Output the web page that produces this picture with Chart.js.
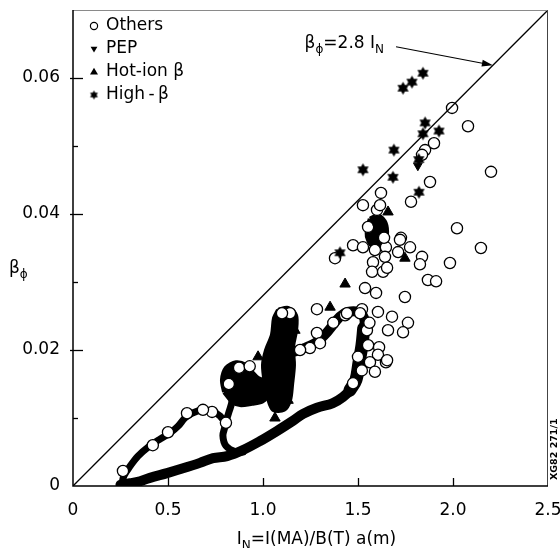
<!DOCTYPE html>
<html>
<head>
<meta charset="utf-8">
<script src="https://cdn.jsdelivr.net/npm/chart.js@4.4.1/dist/chart.umd.min.js"></script>
<style>
  html, body { margin: 0; padding: 0; background: #fff; }
</style>
</head>
<body>
<canvas id="chart" width="560" height="548"></canvas>
<script>
const FONT = '"DejaVu Sans", "Liberation Sans", Arial, sans-serif';

// axis ticks: I_N along x, beta_phi along y
const xTickValues = [0, 0.5, 1.0, 1.5, 2.0, 2.5];
const xTickLabels = ['0', '0.5', '1.0', '1.5', '2.0', '2.5'];
const yTickValues = [0, 0.02, 0.04, 0.06];
const yTickLabels = ['0', '0.02', '0.04', '0.06'];

// beta_phi (%) = 2.8 I_N limit and the arrow pointing at it
const limitSlope = 2.8;
const arrowTail = [1.70, 0.0646];
const arrowHeadX = 2.21;

const others = [
  [1.995, 0.0556], [2.079, 0.0529], [2.200, 0.0462], [1.900, 0.0504], [1.853, 0.0494],
  [1.837, 0.0487], [1.879, 0.0447], [1.779, 0.0418], [1.621, 0.0431], [1.526, 0.0413],
  [1.600, 0.0406], [1.616, 0.0413], [2.021, 0.0379], [1.726, 0.0365], [1.474, 0.0354],
  [1.526, 0.0351], [1.589, 0.0347], [1.647, 0.0351], [1.721, 0.0362], [1.774, 0.0351],
  [1.711, 0.0344], [1.642, 0.0337], [1.579, 0.0329], [1.574, 0.0315], [1.632, 0.0315],
  [1.653, 0.0321], [1.837, 0.0337], [1.826, 0.0326], [1.984, 0.0328], [2.147, 0.0350],
  [1.868, 0.0303], [1.911, 0.0301], [1.379, 0.0335], [1.537, 0.0291], [1.595, 0.0284],
  [1.747, 0.0278], [1.284, 0.0260], [1.521, 0.0260], [1.605, 0.0256], [1.432, 0.0251],
  [1.679, 0.0249], [1.763, 0.0240], [1.658, 0.0229], [1.737, 0.0226], [1.553, 0.0207],
  [1.611, 0.0204], [1.605, 0.0193], [1.563, 0.0182], [1.647, 0.0182], [1.589, 0.0168],
  [1.474, 0.0151], [1.511, 0.0254], [1.442, 0.0254], [0.600, 0.0107], [0.732, 0.0109],
  [0.805, 0.0093], [0.263, 0.0022], [0.684, 0.0112], [0.874, 0.0174], [1.142, 0.0254],
  [1.100, 0.0254], [1.284, 0.0225], [1.300, 0.0210], [1.247, 0.0203], [1.195, 0.0200],
  [1.547, 0.0229], [1.653, 0.0185], [1.553, 0.0381], [1.637, 0.0365],
  [1.500, 0.0190], [1.520, 0.0170], [1.560, 0.0240], [1.370, 0.0240], [0.930, 0.0176],
  [0.820, 0.0150], [0.420, 0.0060], [0.500, 0.0079]
];
const pep = [[1.815, 0.0471], [1.100, 0.0205], [1.120, 0.0175], [1.060, 0.0150]];
const hotIon = [
  [1.658, 0.0403], [1.605, 0.0388], [1.747, 0.0335], [1.432, 0.0297], [1.353, 0.0263],
  [0.974, 0.0190], [1.168, 0.0229], [1.074, 0.0122], [1.132, 0.0126], [1.063, 0.0100]
];
const highBeta = [
  [1.842, 0.0607], [1.784, 0.0594], [1.737, 0.0585], [1.853, 0.0534], [1.926, 0.0522],
  [1.842, 0.0518], [1.689, 0.0494], [1.526, 0.0465], [1.684, 0.0454], [1.821, 0.0432],
  [1.405, 0.0343], [1.820, 0.0480]
];

// where the "Others" shots pile up too thickly to separate
const bandLower = [
  [0.250, 0.0002], [0.300, 0.0004], [0.353, 0.0007], [0.405, 0.0012], [0.495, 0.0019],
  [0.579, 0.0026], [0.668, 0.0034], [0.737, 0.0041], [0.811, 0.0044], [0.895, 0.0053],
  [0.984, 0.0066], [1.074, 0.0081], [1.158, 0.0096], [1.211, 0.0106], [1.284, 0.0115],
  [1.368, 0.0122], [1.421, 0.0131], [1.458, 0.0141], [1.489, 0.0156], [1.505, 0.0181],
  [1.521, 0.0207], [1.532, 0.0229], [1.532, 0.0247], [1.500, 0.0256], [1.447, 0.0256],
  [1.405, 0.0249], [1.337, 0.0226], [1.284, 0.0212], [1.221, 0.0203], [1.158, 0.0197]
];
const bandRightSide = [
  [1.458, 0.0141], [1.489, 0.0156], [1.505, 0.0181], [1.521, 0.0207], [1.530, 0.0232]
];
const bandUpper = [
  [0.258, 0.0003], [0.268, 0.0015], [0.300, 0.0029], [0.342, 0.0044], [0.395, 0.0057],
  [0.458, 0.0069], [0.511, 0.0078], [0.553, 0.0088], [0.589, 0.0100], [0.626, 0.0107],
  [0.684, 0.0112], [0.732, 0.0110], [0.774, 0.0103], [0.800, 0.0091], [0.789, 0.0074],
  [0.805, 0.0059], [0.858, 0.0050], [0.895, 0.0050]
];
const bandLink = [[0.800, 0.0091], [0.821, 0.0109], [0.837, 0.0126], [0.826, 0.0141]];
const blobLeft = [
  [0.795, 0.0138], [0.784, 0.0156], [0.805, 0.0174], [0.858, 0.0182], [0.911, 0.0178],
  [0.942, 0.0168], [0.974, 0.0159], [1.016, 0.0153], [1.026, 0.0134], [0.995, 0.0124],
  [0.942, 0.0121], [0.879, 0.0119], [0.837, 0.0124]
];
const blobColumn = [
  [1.079, 0.0259], [1.132, 0.0262], [1.174, 0.0251], [1.174, 0.0229], [1.158, 0.0204],
  [1.163, 0.0178], [1.153, 0.0149], [1.142, 0.0126], [1.111, 0.0112], [1.053, 0.0112],
  [1.026, 0.0129], [1.011, 0.0149], [1.000, 0.0178], [1.016, 0.0200], [1.047, 0.0222],
  [1.058, 0.0247]
];
const blobTop = [
  [1.562, 0.0393], [1.608, 0.0398], [1.645, 0.0387], [1.652, 0.0368], [1.632, 0.0352],
  [1.590, 0.0350], [1.555, 0.0360], [1.545, 0.0376]
];

const pts = arr => arr.map(([x, y]) => ({ x, y }));

function hexStar(r) {
  const c = document.createElement('canvas');
  const s = Math.ceil(r * 2 + 2);
  c.width = c.height = s;
  const g = c.getContext('2d');
  g.translate(s / 2, s / 2);
  g.beginPath();
  for (let i = 0; i < 12; i++) {
    const a = -Math.PI / 2 + i * Math.PI / 6;
    const rr = i % 2 ? r * 0.58 : r;
    g.lineTo(Math.cos(a) * rr, Math.sin(a) * rr);
  }
  g.closePath();
  g.fillStyle = '#000';
  g.fill();
  return c;
}
const bigStar = hexStar(6.5);
const smallStar = hexStar(4.5);

const band = (data, width) => ({
  type: 'line', data: pts(data), borderColor: '#000', borderWidth: width,
  pointRadius: 0, tension: 0.35, fill: false,
  borderCapStyle: 'round', borderJoinStyle: 'round', order: 10
});
const blob = data => ({
  type: 'line', data: pts([...data, data[0]]), borderColor: '#000', backgroundColor: '#000',
  borderWidth: 4, pointRadius: 0, tension: 0.3, fill: 'shape', borderJoinStyle: 'round', order: 10
});

const pick = (values, labels) => v => {
  const i = values.findIndex(t => Math.abs(t - v) < 1e-6);
  return i < 0 ? '' : labels[i];
};

function drawRuns(ctx, runs, x, y) {
  for (const [t, sub] of runs) {
    ctx.font = sub ? `12px ${FONT}` : `17px ${FONT}`;
    ctx.fillText(t, x, y + (sub ? 5 : 0));
    x += ctx.measureText(t).width;
  }
  return x;
}
function runsWidth(ctx, runs) {
  let w = 0;
  for (const [t, sub] of runs) {
    ctx.font = sub ? `12px ${FONT}` : `17px ${FONT}`;
    w += ctx.measureText(t).width;
  }
  return w;
}

function legendMarker(ctx, ds, x, y) {
  ctx.save();
  ctx.translate(x, y);
  ctx.lineWidth = 1.2;
  ctx.strokeStyle = '#000';
  ctx.fillStyle = '#000';
  if (ds.pointStyle === 'circle') {
    ctx.beginPath();
    ctx.arc(0, 0, 3.6, 0, Math.PI * 2);
    ctx.stroke();
  } else if (ds.pointStyle === 'triangle') {
    ctx.rotate((ds.rotation || 0) * Math.PI / 180);
    const r = ds.rotation ? 3.6 : 4.2;
    ctx.beginPath();
    ctx.moveTo(0, -r);
    ctx.lineTo(r * 0.95, r * 0.6);
    ctx.lineTo(-r * 0.95, r * 0.6);
    ctx.closePath();
    ctx.fill();
  } else {
    ctx.drawImage(smallStar, -smallStar.width / 2, -smallStar.height / 2);
  }
  ctx.restore();
}

const decorations = {
  id: 'decorations',
  afterDatasetsDraw(chart) {
    const { ctx, chartArea: a, scales: { x, y } } = chart;
    ctx.save();
    // frame
    ctx.lineWidth = 1;
    ctx.strokeStyle = '#8a8a8a';
    ctx.beginPath();
    ctx.moveTo(a.left, a.top + 0.5); ctx.lineTo(a.right, a.top + 0.5);
    ctx.stroke();
    ctx.strokeStyle = '#444';
    ctx.beginPath();
    ctx.moveTo(a.right - 0.5, a.top); ctx.lineTo(a.right - 0.5, a.bottom);
    ctx.stroke();
    ctx.strokeStyle = '#000';
    ctx.lineWidth = 1.5;
    ctx.beginPath();
    ctx.moveTo(a.left, a.top); ctx.lineTo(a.left, a.bottom); ctx.lineTo(a.right, a.bottom);
    ctx.stroke();
    // inward tick marks
    ctx.lineWidth = 1.3;
    y.ticks.forEach(t => {
      if (t.value <= 0 || t.value >= y.max - 1e-9) return;
      const py = Math.round(y.getPixelForValue(t.value)) + 0.5;
      const major = t.label !== '';
      ctx.beginPath();
      ctx.moveTo(a.left - (major ? 3 : 0), py);
      ctx.lineTo(a.left + (major ? 10 : 5), py);
      ctx.stroke();
    });
    x.ticks.forEach(t => {
      if (t.value <= 0 || t.value >= x.max - 1e-9) return;
      const px = Math.round(x.getPixelForValue(t.value)) + 0.5;
      ctx.beginPath();
      ctx.moveTo(px, a.bottom);
      ctx.lineTo(px, a.bottom - 8);
      ctx.stroke();
    });
    ctx.restore();
  },
  afterDraw(chart) {
    const { ctx, chartArea: a, scales: { x, y } } = chart;
    ctx.save();
    ctx.fillStyle = '#000';
    ctx.textBaseline = 'alphabetic';

    // legend, top-left inside the frame
    const named = chart.data.datasets.filter(d => d.label);
    named.forEach((ds, i) => {
      const cy = a.top + 16 + i * 23;
      legendMarker(ctx, ds, a.left + 21, cy);
      ctx.font = `17px ${FONT}`;
      ctx.textBaseline = 'middle';
      ctx.fillText(ds.label, a.left + 33, cy);
    });
    ctx.textBaseline = 'alphabetic';

    // limit label and arrow
    const tx = x.getPixelForValue(arrowTail[0]);
    const ty = y.getPixelForValue(arrowTail[1]);
    const hx = x.getPixelForValue(arrowHeadX);
    const hy = y.getPixelForValue(limitSlope * arrowHeadX / 100);
    const label = [['β'], ['ϕ', 1], ['=2.8 I'], ['N', 1]];
    drawRuns(ctx, label, tx - 12 - runsWidth(ctx, label), ty + 1);
    ctx.strokeStyle = '#000';
    ctx.lineWidth = 1.2;
    const ang = Math.atan2(hy - ty, hx - tx);
    ctx.beginPath();
    ctx.moveTo(tx, ty);
    ctx.lineTo(hx - 8 * Math.cos(ang), hy - 8 * Math.sin(ang));
    ctx.stroke();
    ctx.save();
    ctx.translate(hx, hy);
    ctx.rotate(ang);
    ctx.beginPath();
    ctx.moveTo(0, 0); ctx.lineTo(-11, -3.5); ctx.lineTo(-11, 3.5);
    ctx.closePath();
    ctx.fill();
    ctx.restore();

    // axis titles
    drawRuns(ctx, [['β'], ['ϕ', 1]], 9, y.getPixelForValue(0.0322) + 6);
    const xt = [['I'], ['N', 1], ['=I(MA)/B(T) a(m)']];
    drawRuns(ctx, xt, (a.left + a.right) / 2 + 6 - runsWidth(ctx, xt) / 2, a.bottom + 58);

    // figure number along the right edge
    ctx.save();
    ctx.translate(a.right + 7, a.bottom - 6);
    ctx.rotate(-Math.PI / 2);
    ctx.font = `bold 9.5px ${FONT}`;
    ctx.textBaseline = 'middle';
    ctx.fillText('XG82 271/1', 0, 0);
    ctx.restore();

    ctx.restore();
  }
};

new Chart(document.getElementById('chart'), {
  type: 'scatter',
  data: {
    datasets: [
      {
        label: 'Others', data: pts(others), pointStyle: 'circle', pointRadius: 5.6,
        backgroundColor: '#fff', borderColor: '#000', borderWidth: 1.3, order: 4
      },
      {
        label: 'PEP', data: pts(pep), pointStyle: 'triangle', rotation: 180, pointRadius: 5,
        backgroundColor: '#000', borderColor: '#000', borderWidth: 1, order: 3
      },
      {
        label: 'Hot-ion β', data: pts(hotIon), pointStyle: 'triangle', pointRadius: 6,
        backgroundColor: '#000', borderColor: '#000', borderWidth: 1, order: 2
      },
      {
        label: 'High\u2009-\u2009β', data: pts(highBeta), pointStyle: bigStar,
        backgroundColor: '#000', borderColor: '#000', order: 1
      },
      band(bandLower, 10),
      band(bandRightSide, 13),
      band(bandUpper, 7),
      band(bandLink, 7),
      blob(blobLeft),
      blob(blobColumn),
      blob(blobTop),
      {
        type: 'line', data: [{ x: 0, y: 0 }, { x: 2.5, y: limitSlope * 2.5 / 100 }],
        borderColor: '#000', borderWidth: 1.3, pointRadius: 0, fill: false, order: 0
      }
    ]
  },
  options: {
    responsive: false,
    devicePixelRatio: 1,
    animation: false,
    layout: { padding: { top: 10, right: 12, left: 0, bottom: 0 } },
    plugins: { legend: { display: false }, tooltip: { enabled: false } },
    scales: {
      x: {
        type: 'linear', min: 0, max: 2.5,
        grid: { display: false }, border: { display: false },
        ticks: {
          stepSize: 0.5, autoSkip: false, maxRotation: 0, padding: 6, color: '#000',
          font: { family: FONT, size: 17 }, callback: pick(xTickValues, xTickLabels)
        },
        afterFit: s => { s.height = 62; s.paddingLeft = 0; s.paddingRight = 0; }
      },
      y: {
        type: 'linear', min: 0, max: 0.07,
        grid: { display: false }, border: { display: false },
        ticks: {
          stepSize: 0.01, autoSkip: false, padding: 5, color: '#000',
          font: { family: FONT, size: 17 }, callback: pick(yTickValues, yTickLabels)
        },
        afterFit: s => { s.width = 73; s.paddingTop = 0; s.paddingBottom = 0; }
      }
    }
  },
  plugins: [decorations]
});
</script>
</body>
</html>
